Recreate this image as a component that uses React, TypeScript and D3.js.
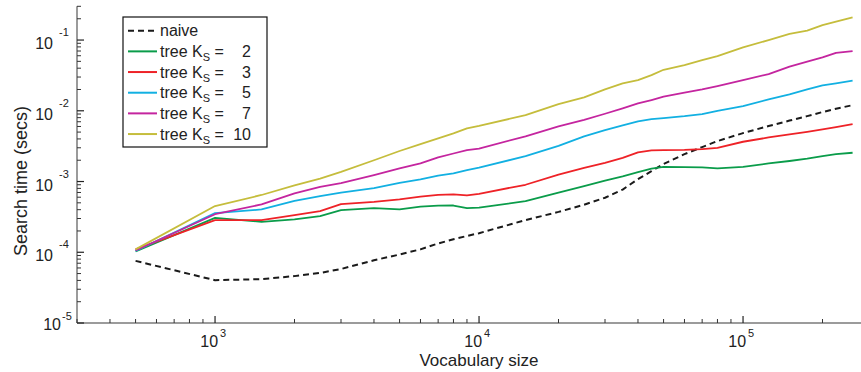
import React from 'react';
import * as d3 from 'd3';

// vocabulary sizes where the search time was measured
const sizes = [500, 1000, 1500, 2000, 2500, 3000, 4000, 5000, 6000, 7000, 8000, 9000, 10000, 15000, 20000, 25000, 30000, 35000, 40000, 45000, 50000, 60000, 70000, 80000, 100000, 125000, 150000, 175000, 200000, 225000, 260000];

const naive = [7.55e-5, 4.03e-5, 4.17e-5, 4.6e-5, 5.1e-5, 5.8e-5, 7.7e-5, 9.3e-5, 1.1e-4, 1.33e-4, 1.53e-4, 1.7e-4, 1.86e-4, 2.85e-4, 3.72e-4, 4.7e-4, 5.9e-4, 7.7e-4, 1.08e-3, 1.4e-3, 1.77e-3, 2.44e-3, 3.07e-3, 3.73e-3, 4.84e-3, 6.08e-3, 7.27e-3, 8.4e-3, 9.6e-3, 1.07e-2, 1.2e-2];
const tree2 = [1.03e-4, 3.07e-4, 2.69e-4, 2.91e-4, 3.24e-4, 3.94e-4, 4.2e-4, 4.05e-4, 4.42e-4, 4.56e-4, 4.58e-4, 4.2e-4, 4.27e-4, 5.28e-4, 6.96e-4, 8.6e-4, 1.03e-3, 1.18e-3, 1.36e-3, 1.52e-3, 1.61e-3, 1.6e-3, 1.58e-3, 1.53e-3, 1.61e-3, 1.8e-3, 1.95e-3, 2.1e-3, 2.29e-3, 2.44e-3, 2.55e-3];
const tree3 = [1.1e-4, 2.85e-4, 2.85e-4, 3.35e-4, 3.81e-4, 4.79e-4, 5.16e-4, 5.58e-4, 6.1e-4, 6.49e-4, 6.6e-4, 6.35e-4, 6.7e-4, 9.0e-4, 1.25e-3, 1.56e-3, 1.84e-3, 2.16e-3, 2.58e-3, 2.75e-3, 2.78e-3, 2.8e-3, 2.87e-3, 3.0e-3, 3.65e-3, 4.2e-3, 4.63e-3, 5.05e-3, 5.45e-3, 5.88e-3, 6.49e-3];
const tree5 = [1.04e-4, 3.57e-4, 4.03e-4, 5.33e-4, 6.2e-4, 6.96e-4, 8.07e-4, 9.6e-4, 1.07e-3, 1.21e-3, 1.3e-3, 1.45e-3, 1.57e-3, 2.28e-3, 3.2e-3, 4.35e-3, 5.33e-3, 6.2e-3, 7.08e-3, 7.63e-3, 7.9e-3, 8.4e-3, 8.98e-3, 1.0e-2, 1.16e-2, 1.45e-2, 1.71e-2, 2.01e-2, 2.29e-2, 2.44e-2, 2.66e-2];
const tree7 = [1.06e-4, 3.45e-4, 4.74e-4, 6.8e-4, 8.4e-4, 9.5e-4, 1.23e-3, 1.53e-3, 1.8e-3, 2.19e-3, 2.49e-3, 2.78e-3, 2.92e-3, 4.36e-3, 6.0e-3, 7.46e-3, 9.08e-3, 1.08e-2, 1.27e-2, 1.42e-2, 1.58e-2, 1.8e-2, 2.01e-2, 2.24e-2, 2.72e-2, 3.3e-2, 4.2e-2, 4.94e-2, 5.7e-2, 6.6e-2, 6.99e-2];
const tree10 = [1.1e-4, 4.5e-4, 6.45e-4, 8.8e-4, 1.1e-3, 1.37e-3, 2.0e-3, 2.7e-3, 3.38e-3, 4.07e-3, 4.79e-3, 5.64e-3, 6.1e-3, 8.7e-3, 1.24e-2, 1.55e-2, 2.01e-2, 2.44e-2, 2.72e-2, 3.2e-2, 3.8e-2, 4.43e-2, 5.2e-2, 5.94e-2, 7.88e-2, 0.1, 0.122, 0.136, 0.163, 0.182, 0.21];

const ksValues = ['2', '3', '5', '7', '10'];
const xMajor = [1e3, 1e4, 1e5];
const xExp = ['3', '4', '5'];
const yMajor = [1e-1, 1e-2, 1e-3, 1e-4, 1e-5];
const yExp = ['-1', '-2', '-3', '-4', '-5'];

const series = [
  { name: 'naive', values: naive, color: '#1a1a1a', dash: '6,4' },
  { name: 'tree', ks: ksValues[0], values: tree2, color: '#0a9c4a' },
  { name: 'tree', ks: ksValues[1], values: tree3, color: '#ee2227' },
  { name: 'tree', ks: ksValues[2], values: tree5, color: '#12b0e2' },
  { name: 'tree', ks: ksValues[3], values: tree7, color: '#c4259f' },
  { name: 'tree', ks: ksValues[4], values: tree10, color: '#c5bd3c' },
];

const W = 861;
const H = 372;
const font = '"Liberation Sans", Arial, Helvetica, sans-serif';
const textColor = '#222';

export default function App() {
  const x = d3.scaleLog().domain([300, 3e5]).range([77, 869]);
  const y = d3.scaleLog().domain([1e-5, 0.3]).range([323, 6.3]);

  const line = d3.line<number>()
    .x((_, i) => x(sizes[i]))
    .y(d => y(d));

  const xMinor = x.ticks().filter(t => !xMajor.some(m => Math.abs(m - t) / m < 1e-6));
  const yMinor = y.ticks().filter(t => !yMajor.some(m => Math.abs(m - t) / m < 1e-6));

  const x0 = x.range()[0];
  const y0 = y.range()[0];
  const axisColor = '#7a7a7a';

  const legX = 123;
  const legY = 17;
  const rowH = 20.67;

  return (
    <svg width={W} height={H} style={{ position: 'absolute', left: 0, top: 0, background: '#fff' }} fontFamily={font}>
      {/* series */}
      {series.map((s, i) => (
        <path key={i} d={line(s.values) || ''} fill="none" stroke={s.color}
          strokeWidth={s.dash ? 2 : 1.8} strokeDasharray={s.dash} strokeLinejoin="round" />
      ))}

      {/* axes */}
      <line x1={x0} x2={W} y1={y0} y2={y0} stroke={axisColor} strokeWidth={1.5} />
      <line x1={x0} x2={x0} y1={y0} y2={y.range()[1]} stroke={axisColor} strokeWidth={1.5} />
      {xMinor.map((t, i) => (
        <line key={'xm' + i} x1={x(t)} x2={x(t)} y1={y0} y2={y0 - 4} stroke="#333" strokeWidth={1} />
      ))}
      {xMajor.map((t, i) => (
        <g key={'xM' + i}>
          <line x1={x(t)} x2={x(t)} y1={y0} y2={y0 - 7} stroke="#222" strokeWidth={1.2} />
          <text x={x(t) + 3} y={347} textAnchor="end" fontSize={16} fill={textColor}>10</text>
          <text x={x(t) + 5} y={336.5} fontSize={11} fill={textColor}>{xExp[i]}</text>
        </g>
      ))}
      {yMinor.map((t, i) => (
        <line key={'ym' + i} x1={x0} x2={x0 + 4} y1={y(t)} y2={y(t)} stroke="#333" strokeWidth={1} />
      ))}
      {yMajor.map((t, i) => {
        const last = i === yMajor.length - 1;
        return (
          <g key={'yM' + i}>
            <line x1={x0} x2={x0 + 7} y1={y(t)} y2={y(t)} stroke="#222" strokeWidth={1.2} />
            <text x={last ? 61 : 53} y={y(t) + (last ? 7 : 9)} textAnchor="end" fontSize={16} fill={textColor}>10</text>
            <text x={last ? 62 : 59} y={y(t) + (last ? -3 : -4)} fontSize={11} fill={textColor}>{yExp[i]}</text>
          </g>
        );
      })}

      {/* axis titles */}
      <text x={479} y={366} textAnchor="middle" fontSize={17} fill={textColor}>Vocabulary size</text>
      <text transform="translate(27,181) rotate(-90)" textAnchor="middle" fontSize={18} fill={textColor}>Search time (secs)</text>

      {/* legend */}
      <rect x={legX} y={legY} width={144} height={130} fill="#fff" stroke="#111" strokeWidth={1.2} />
      {series.map((s, i) => {
        const cy = legY + 13.7 + i * rowH;
        return (
          <g key={'leg' + i}>
            <line x1={legX + 5} x2={legX + 34} y1={cy} y2={cy} stroke={s.color}
              strokeWidth={2} strokeDasharray={s.dash} />
            {s.ks === undefined ? (
              <text x={legX + 37} y={cy + 5.5} fontSize={16} fill={textColor}>{s.name}</text>
            ) : (
              <>
                <text x={legX + 37} y={cy + 5.5} fontSize={16} fill={textColor}>
                  {s.name} K<tspan fontSize={11} dy={4}>S</tspan><tspan dy={-4}> =</tspan>
                </text>
                <text x={legX + 128} y={cy + 5.5} textAnchor="end" fontSize={16} fill={textColor}>{s.ks}</text>
              </>
            )}
          </g>
        );
      })}
    </svg>
  );
}
